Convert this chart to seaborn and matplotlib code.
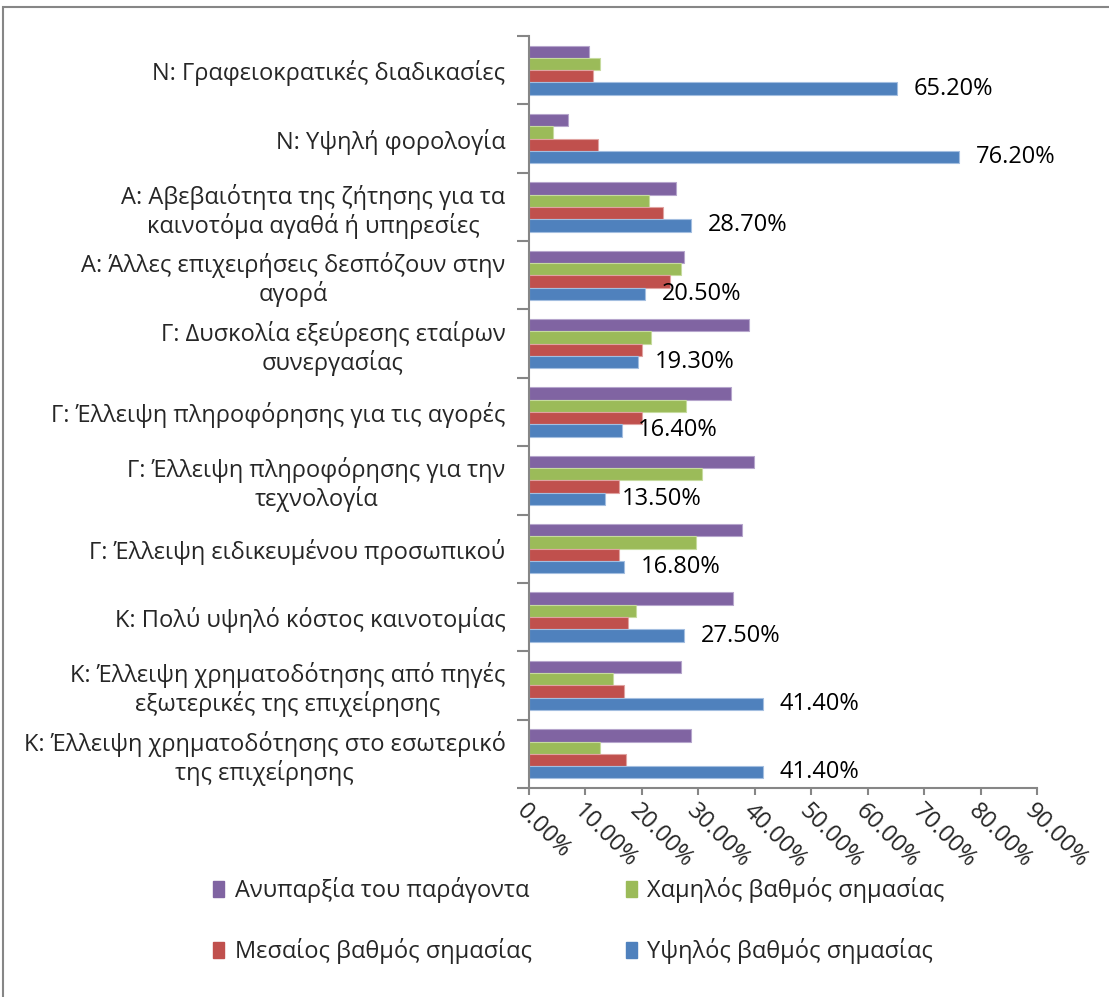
import matplotlib
matplotlib.use("Agg")
import matplotlib.pyplot as plt
import matplotlib.patches as mpatches
from matplotlib.ticker import FixedLocator, FuncFormatter
import numpy as np
import pandas as pd
import seaborn as sns

# Obstacles to innovation and the share of firms rating each one
categories = [
    "Ν: Γραφειοκρατικές διαδικασίες",
    "Ν: Υψηλή φορολογία",
    "Α: Αβεβαιότητα της ζήτησης για τα\nκαινοτόμα αγαθά ή υπηρεσίες",
    "Α: Άλλες επιχειρήσεις δεσπόζουν στην\nαγορά",
    "Γ: Δυσκολία εξεύρεσης εταίρων\nσυνεργασίας",
    "Γ: Έλλειψη πληροφόρησης για τις αγορές",
    "Γ: Έλλειψη πληροφόρησης για την\nτεχνολογία",
    "Γ: Έλλειψη ειδικευμένου προσωπικού",
    "Κ: Πολύ υψηλό κόστος καινοτομίας",
    "Κ: Έλλειψη χρηματοδότησης από πηγές\nεξωτερικές της επιχείρησης",
    "Κ: Έλλειψη χρηματοδότησης στο εσωτερικό\nτης επιχείρησης",
]

series_names = [
    "Ανυπαρξία του παράγοντα",
    "Χαμηλός βαθμός σημασίας",
    "Μεσαίος βαθμός σημασίας",
    "Υψηλός βαθμός σημασίας",
]

absent = [0.106, 0.069, 0.261, 0.274, 0.389, 0.357, 0.398, 0.377, 0.361, 0.270, 0.287]
low = [0.126, 0.043, 0.212, 0.270, 0.217, 0.279, 0.307, 0.295, 0.189, 0.148, 0.126]
medium = [0.114, 0.122, 0.237, 0.250, 0.201, 0.201, 0.160, 0.160, 0.176, 0.168, 0.171]
high = [0.652, 0.762, 0.287, 0.205, 0.193, 0.164, 0.135, 0.168, 0.275, 0.414, 0.414]

x_ticks = [0.0, 0.1, 0.2, 0.3, 0.4, 0.5, 0.6, 0.7, 0.8, 0.9]

colors = ["#8064A2", "#9BBB59", "#C0504D", "#4F81BD"]
edge_colors = ["#B6A5CC", "#C6DB9E", "#E0A3A1", "#A3BEE0"]
axis_gray = "#868686"

df = pd.DataFrame({
    "category": np.repeat(categories, len(series_names)),
    "series": series_names * len(categories),
    "value": np.ravel(np.column_stack([absent, low, medium, high])),
})

sns.set_theme(style="white")
plt.rcParams["font.family"] = ["Open Sans", "DejaVu Sans"]
FS = 17

fig = plt.figure(figsize=(11.09, 9.97), dpi=100)
ax = fig.add_axes([529 / 1109, 1 - 788 / 997, (1037 - 529) / 1109, (788 - 36) / 997])

sns.barplot(
    data=df, x="value", y="category", hue="series",
    order=categories, hue_order=series_names,
    palette=colors, saturation=1, width=0.72, orient="h",
    ax=ax, legend=False,
)

for container, ec in zip(ax.containers, edge_colors):
    for bar in container:
        bar.set_edgecolor(ec)
        bar.set_linewidth(0.8)

# value labels on the "high importance" series
ax.bar_label(ax.containers[3], labels=[f"{v * 100:.2f}%" for v in high],
             padding=12, fontsize=FS, color="black")

ax.set_xlim(0, 0.9)
ax.set_ylim(len(categories) - 0.5, -0.5)
ax.set_xlabel("")
ax.set_ylabel("")

# axis styling
for side in ("top", "right"):
    ax.spines[side].set_visible(False)
for side in ("left", "bottom"):
    ax.spines[side].set_color(axis_gray)
    ax.spines[side].set_linewidth(1.5)

ax.xaxis.set_major_locator(FixedLocator(x_ticks))
ax.xaxis.set_major_formatter(FuncFormatter(lambda v, _: f"{v * 100:.2f}%"))
ax.tick_params(axis="x", which="major", direction="out", length=5, width=1.5,
               color=axis_gray, bottom=True, pad=3, labelsize=FS)
for lab in ax.get_xticklabels():
    lab.set_rotation(-45)
    lab.set_ha("left")
    lab.set_va("top")
    lab.set_rotation_mode("anchor")

ax.yaxis.set_minor_locator(FixedLocator(np.arange(-0.5, len(categories), 1.0)))
ax.tick_params(axis="y", which="minor", direction="out", length=8.5, width=1.5,
               color=axis_gray, left=True)
ax.tick_params(axis="y", which="major", length=0, pad=17, labelsize=FS)
for lab in ax.get_yticklabels():
    lab.set_multialignment("center")
    lab.set_linespacing(1.15)

# legend in two rows under the plot (filled column by column)
legend_order = [0, 2, 1, 3]
handles = [mpatches.Patch(facecolor=colors[i], edgecolor=colors[i]) for i in legend_order]
labels = [series_names[i] for i in legend_order]
fig.legend(handles, labels, loc="upper left",
           bbox_to_anchor=(204 / 1109, 1 - 868 / 997), borderaxespad=0,
           ncol=2, frameon=False,
           fontsize=FS, handlelength=0.45, handleheight=0.65, handletextpad=0.45,
           columnspacing=4.0, labelspacing=1.48)

# outer frame
fig.patches.append(mpatches.Rectangle(
    (3 / 1109, -0.05), 1.2, 1 - 7 / 997 + 0.05, transform=fig.transFigure,
    fill=False, edgecolor=axis_gray, linewidth=1.5, clip_on=False))

fig.savefig("out.png", dpi=100, facecolor="white")
